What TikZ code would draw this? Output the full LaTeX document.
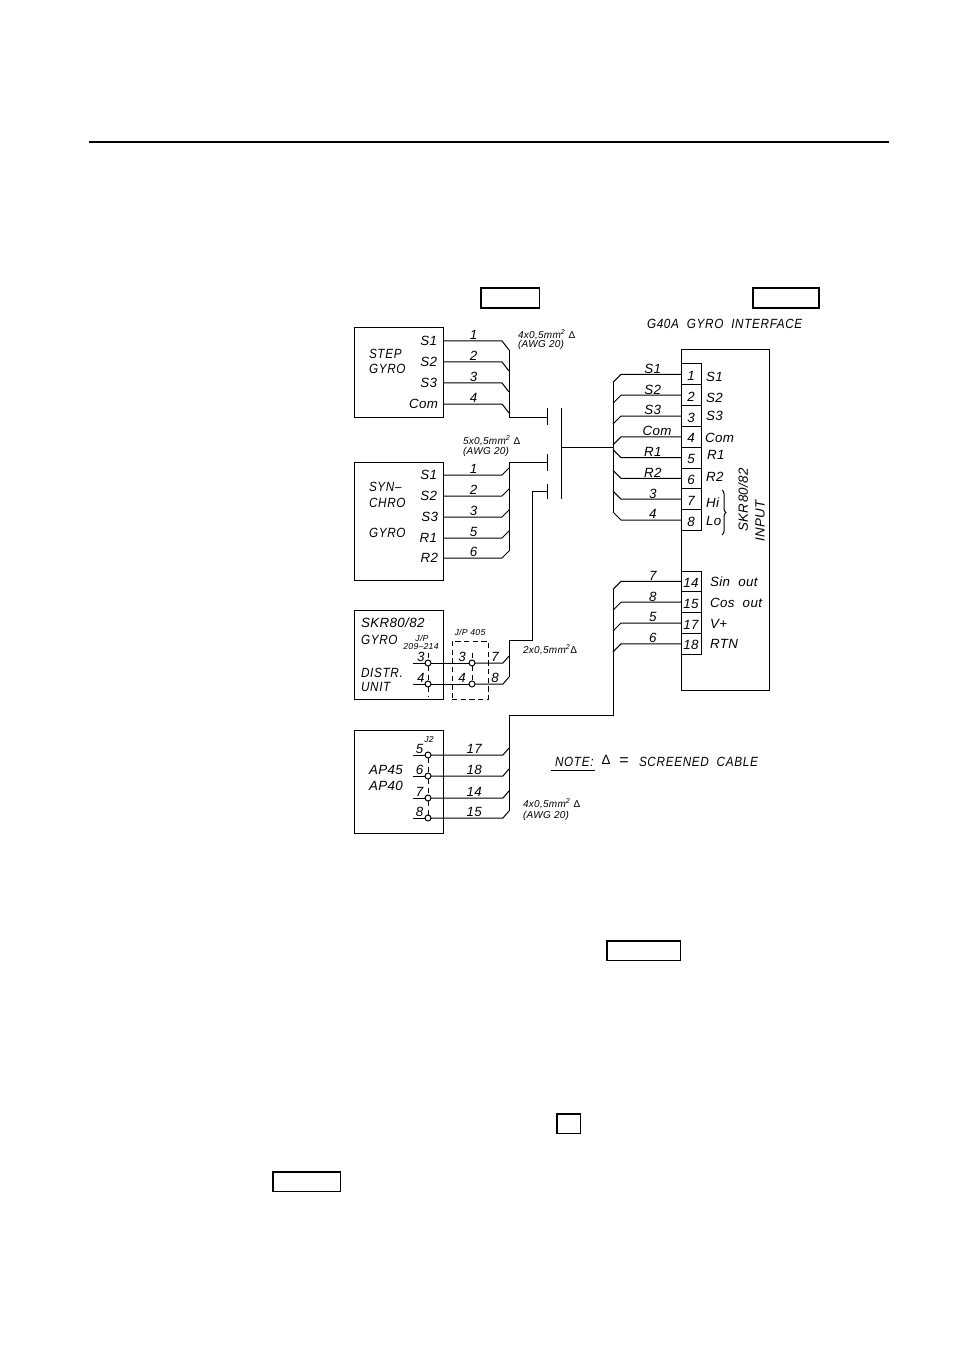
\documentclass[tikz,border=0pt]{standalone}
\usepackage{fontspec}
\setmainfont[LetterSpace=3]{Liberation Sans}
\newfontfamily\cadnarrow[FakeStretch=0.88,LetterSpace=5]{Liberation Sans}
\usepackage{tikz}
\usetikzlibrary{positioning,decorations.pathreplacing}

\begin{document}
\begin{tikzpicture}[
    x=0.75pt, y=-0.75pt,
    every node/.style={font=\fontsize{10}{10}\selectfont\itshape, inner sep=0pt, outer sep=0pt},
    wire/.style={line width=0.75pt},
    unitbox/.style={rectangle, draw, line width=0.75pt, anchor=north west},
    blankbox/.style={rectangle, draw, line width=1pt, anchor=north west},
    cell/.style={rectangle, draw, line width=0.75pt, minimum width=15pt, minimum height=15.6pt, text height=9.2pt, text depth=0pt},
    term/.style={circle, draw, fill=white, line width=0.75pt, minimum size=4.5pt},
    pinlab/.style={anchor=east},
    wirelab/.style={above=0.8pt, pos=#1},
    wirelab/.default=0.47,
    capstxt/.style={font=\fontsize{10}{10}\selectfont\cadnarrow\itshape, anchor=west},
    smalltxt/.style={font=\fontsize{7.5}{7.5}\selectfont\itshape, anchor=west},
    tinytxt/.style={font=\fontsize{6.5}{6.5}\selectfont\itshape},
    dashwire/.style={line width=0.75pt, dash pattern=on 4pt off 2.5pt}
]
    \useasboundingbox (0,0) rectangle (954,1351);

    % Page rule and empty frames
    \coordinate (ruleL) at (89,142);
    \coordinate (ruleR) at (889,142);
    \draw[line width=1.5pt] (ruleL) -- (ruleR);
    \node[blankbox, minimum width=44pt, minimum height=15pt] (blank1) at (481,288) {};
    \node[blankbox, minimum width=49.5pt, minimum height=15pt] (blank2) at (753,288) {};
    \node[blankbox, minimum width=55pt, minimum height=14.5pt] (blank3) at (607,941) {};
    \node[blankbox, minimum width=17.5pt, minimum height=14.5pt] (blank4) at (557,1114) {};
    \node[blankbox, minimum width=50.5pt, minimum height=14.5pt] (blank5) at (273,1172) {};

    % Step gyro
    \node[unitbox, minimum width=66.75pt, minimum height=66.75pt] (stepbox) at (354,328) {};
    \node[capstxt] (stepname1) at (369,354) {STEP};
    \node[capstxt] (stepname2) at (369,369) {GYRO};
    \node[pinlab] (stepS1) at (437,341) {S1};
    \node[pinlab] (stepS2) at (437,362) {S2};
    \node[pinlab] (stepS3) at (437,383) {S3};
    \node[pinlab] (stepCom) at (438,404) {Com};
    \draw[wire] (stepS1 -| stepbox.east) -- node[wirelab=0.52] (stepw1) {1} ++(59,0) -- ++(7,9) coordinate (stepT1);
    \draw[wire] (stepS2 -| stepbox.east) -- node[wirelab=0.52] (stepw2) {2} ++(59,0) -- ++(7,9) coordinate (stepT2);
    \draw[wire] (stepS3 -| stepbox.east) -- node[wirelab=0.52] (stepw3) {3} ++(59,0) -- ++(7,9) coordinate (stepT3);
    \draw[wire] (stepCom -| stepbox.east) -- node[wirelab=0.52] (stepw4) {4} ++(59,0) -- ++(7,9) coordinate (stepT4);
    \node[smalltxt] (stepcable1) at (518,335) {4x0,5mm\textsuperscript{2} {\upshape Δ}};
    \node[smalltxt] (stepcable2) at (518,345) {(AWG 20)};

    % Synchro gyro
    \node[unitbox, minimum width=66.75pt, minimum height=88.5pt] (synbox) at (354,462) {};
    \node[capstxt] (synname1) at (369,487) {SYN\textendash};
    \node[capstxt] (synname2) at (369,503) {CHRO};
    \node[capstxt] (synname3) at (369,533) {GYRO};
    \node[pinlab] (synS1) at (437,475) {S1};
    \node[pinlab] (synS2) at (437,496) {S2};
    \node[pinlab] (synS3) at (438,517) {S3};
    \node[pinlab] (synR1) at (437,538) {R1};
    \node[pinlab] (synR2) at (438,558) {R2};
    \draw[wire] (synS1 -| synbox.east) -- node[wirelab=0.52] (synw1) {1} ++(59,0) -- ++(7,-7) coordinate (synT1);
    \draw[wire] (synS2 -| synbox.east) -- node[wirelab=0.52] (synw2) {2} ++(59,0) -- ++(7,-7) coordinate (synT2);
    \draw[wire] (synS3 -| synbox.east) -- node[wirelab=0.52] (synw3) {3} ++(59,0) -- ++(7,-7) coordinate (synT3);
    \draw[wire] (synR1 -| synbox.east) -- node[wirelab=0.52] (synw5) {5} ++(59,0) -- ++(7,-7) coordinate (synT4);
    \draw[wire] (synR2 -| synbox.east) -- node[wirelab=0.52] (synw6) {6} ++(59,0) -- ++(7,-7) coordinate (synT5);
    \node[smalltxt] (syncable1) at (463,441) {5x0,5mm\textsuperscript{2} {\upshape Δ}};
    \node[smalltxt] (syncable2) at (463,452) {(AWG 20)};

    % Junction bars
    \coordinate (tick1) at (547,417);
    \coordinate (tick2) at (547,462);
    \coordinate (tick3) at (547,491);
    \coordinate (busTop) at (561,408);
    \coordinate (busBot) at (561,499);
    \coordinate (busMid) at (561,447);
    \draw[wire] (tick1) ++(0,-9) -- ++(0,17);
    \draw[wire] (tick2) ++(0,-8) -- ++(0,17);
    \draw[wire] (tick3) ++(0,-7) -- ++(0,15);
    \draw[wire] (busTop) -- (busBot);
    \draw[wire] (stepT1) |- (tick1);
    \draw[wire] (synT5) |- (tick2);

    % Distribution unit
    \node[unitbox, minimum width=66.75pt, minimum height=66.75pt] (distbox) at (354,610) {};
    \node[anchor=west] (distname1) at (361,623) {SKR80/82};
    \node[capstxt] (distname2) at (361,640) {GYRO};
    \node[capstxt] (distname3) at (361,673) {DISTR.};
    \node[capstxt] (distname4) at (361,687) {UNIT};
    \node[tinytxt] (distjp1) at (422,638) {J/P};
    \node[tinytxt] (distjp2) at (421,647) {209\textendash 214};
    \node[tinytxt] (linkjp) at (470,632) {J/P 405};
    \node[unitbox, dashwire, minimum width=27pt, minimum height=43.5pt] (linkbox) at (452,641) {};
    \node[term] (dist3) at (428,663) {};
    \node[term] (dist4) at (428,684) {};
    \node[term] (link3) at (472,663) {};
    \node[term] (link4) at (472,684) {};
    \draw[dashwire] (dist3.north) ++(0,-7) -- (dist3.north);
    \draw[dashwire] (dist3.south) -- (dist4.north);
    \draw[dashwire] (dist4.south) -- ++(0,9);
    \draw[dashwire] (link3.north) ++(0,-7) -- (link3.north);
    \draw[dashwire] (link3.south) -- (link4.north);
    \draw[wire] (dist3.west) -- node[wirelab=0.35] (distn3) {3} ++(-12,0);
    \draw[wire] (dist4.west) -- node[wirelab=0.35] (distn4) {4} ++(-12,0);
    \draw[wire] (dist3.east) -- node[wirelab=0.82] (linkn3) {3} (link3.west);
    \draw[wire] (dist4.east) -- node[wirelab=0.82] (linkn4) {4} (link4.west);
    \draw[wire] (link3.east) -- node[wirelab=0.72] (linkw7) {7} ++(28,0) -- ++(6,-7) coordinate (distT1);
    \draw[wire] (link4.east) -- node[wirelab=0.72] (linkw8) {8} ++(28,0) -- ++(6,-7) coordinate (distT2);
    \coordinate (distTop) at (509,640);
    \draw[wire] (tick3) -- ++(-15,0) |- (distTop) -- (distT2);
    \node[smalltxt] (distcable) at (523,650) {2x0,5mm\textsuperscript{2}{\upshape Δ}};

    % Autopilot
    \node[unitbox, minimum width=66.75pt, minimum height=77.25pt] (apbox) at (354,730) {};
    \node[anchor=west] (apname1) at (369,770) {AP45};
    \node[anchor=west] (apname2) at (369,786) {AP40};
    \node[tinytxt] (apjack) at (429,740) {J2};
    \node[term] (ap5) at (428,755) {};
    \node[term] (ap6) at (428,776) {};
    \node[term] (ap7) at (428,798) {};
    \node[term] (ap8) at (428,818) {};
    \draw[dashwire] (ap5.south) -- (ap6.north);
    \draw[dashwire] (ap6.south) -- (ap7.north);
    \draw[dashwire] (ap7.south) -- (ap8.north);
    \draw[wire] (ap5.west) -- node[wirelab=0.45] (apn5) {5} ++(-12,0);
    \draw[wire] (ap6.west) -- node[wirelab=0.45] (apn6) {6} ++(-12,0);
    \draw[wire] (ap7.west) -- node[wirelab=0.45] (apn7) {7} ++(-12,0);
    \draw[wire] (ap8.west) -- node[wirelab=0.45] (apn8) {8} ++(-12,0);
    \draw[wire] (ap5.east) -- node[wirelab=0.6] (apw17) {17} ++(72,0) -- ++(6,-7) coordinate (apT1);
    \draw[wire] (ap6.east) -- node[wirelab=0.6] (apw18) {18} ++(72,0) -- ++(6,-7) coordinate (apT2);
    \draw[wire] (ap7.east) -- node[wirelab=0.6] (apw14) {14} ++(72,0) -- ++(6,-7) coordinate (apT3);
    \draw[wire] (ap8.east) -- node[wirelab=0.6] (apw15) {15} ++(72,0) -- ++(6,-7) coordinate (apT4);
    \node[smalltxt] (apcable1) at (523,804) {4x0,5mm\textsuperscript{2} {\upshape Δ}};
    \node[smalltxt] (apcable2) at (523,816) {(AWG 20)};

    % G40A interface
    \node[capstxt] (title) at (647,324) {G40A\ \ GYRO\ \ INTERFACE};
    \node[unitbox, minimum width=66.4pt, minimum height=255.4pt] (ifbox) at (681,350) {};
    \node[cell, anchor=north west] (in1) at (681,364) {1};
    \node[cell, below=0pt of in1] (in2) {2};
    \node[cell, below=0pt of in2] (in3) {3};
    \node[cell, below=0pt of in3] (in4) {4};
    \node[cell, below=0pt of in4] (in5) {5};
    \node[cell, below=0pt of in5] (in6) {6};
    \node[cell, below=0pt of in6] (in7) {7};
    \node[cell, below=0pt of in7] (in8) {8};
    \node[anchor=west] (inS1) at (706,377) {S1};
    \node[anchor=west] (inS2) at (706,398) {S2};
    \node[anchor=west] (inS3) at (706,416) {S3};
    \node[anchor=west] (inCom) at (705,438) {Com};
    \node[anchor=west] (inR1) at (707,455) {R1};
    \node[anchor=west] (inR2) at (706,477) {R2};
    \node[anchor=west] (inHi) at (706,503) {Hi};
    \node[anchor=west] (inLo) at (706,521) {Lo};
    \coordinate (braceT) at (722,490);
    \coordinate (braceB) at (722,535);
    \draw[wire, decorate, decoration={brace, amplitude=3pt}] (braceT) -- (braceB);
    \node[rotate=90, anchor=east] (ifname1) at (743,468) {SKR80/82};
    \node[rotate=90, anchor=east] (ifname2) at (760,500) {INPUT};
    \draw[wire] (in1.west) -- node[wirelab] (inw1) {S1} ++(-60,0) -- ++(-8,8) coordinate (rtop);
    \draw[wire] (in2.west) -- node[wirelab] (inw2) {S2} ++(-60,0) -- ++(-8,8);
    \draw[wire] (in3.west) -- node[wirelab] (inw3) {S3} ++(-60,0) -- ++(-8,8);
    \draw[wire] (in4.west) -- node[wirelab=0.4] (inw4) {Com} ++(-60,0) -- ++(-8,8);
    \draw[wire] (in5.west) -- node[wirelab] (inw5) {R1} ++(-60,0) -- ++(-8,-8);
    \draw[wire] (in6.west) -- node[wirelab] (inw6) {R2} ++(-60,0) -- ++(-8,-8);
    \draw[wire] (in7.west) -- node[wirelab] (inw7) {3} ++(-60,0) -- ++(-8,-8);
    \draw[wire] (in8.west) -- node[wirelab] (inw8) {4} ++(-60,0) -- ++(-8,-8) coordinate (rbot);
    \draw[wire] (rtop) -- (rbot);
    \draw[wire] (busMid) -- (busMid -| rtop);

    % Outputs
    \node[cell, anchor=north west] (out14) at (681,571) {14};
    \node[cell, below=0pt of out14] (out15) {15};
    \node[cell, below=0pt of out15] (out17) {17};
    \node[cell, below=0pt of out17] (out18) {18};
    \node[anchor=west] (outSin) at (710,582) {Sin\ \ out};
    \node[anchor=west] (outCos) at (710,603) {Cos\ \ out};
    \node[anchor=west] (outV) at (710,624) {V+};
    \node[anchor=west] (outRTN) at (710,644) {RTN};
    \draw[wire] (out14.west) -- node[wirelab] (outw7) {7} ++(-60,0) -- ++(-8,8) coordinate (lowtop);
    \draw[wire] (out15.west) -- node[wirelab] (outw8) {8} ++(-60,0) -- ++(-8,8);
    \draw[wire] (out17.west) -- node[wirelab] (outw5) {5} ++(-60,0) -- ++(-8,8);
    \draw[wire] (out18.west) -- node[wirelab] (outw6) {6} ++(-60,0) -- ++(-8,8);
    \coordinate (apTop) at (509,715);
    \draw[wire] (lowtop) |- (apTop) -- (apT4);

    % Note
    \node[capstxt] (note) at (555,762) {NOTE:};
    \draw[wire] (note.west) ++(-4,8) -- ++(44,0);
    \node[font=\fontsize{10}{10}\selectfont\upshape] (notetri) at (606,760) {Δ};
    \node[font=\fontsize{12}{12}\selectfont] (noteeq) at (624,762) {=};
    \node[capstxt] (notetxt) at (639,762) {SCREENED\ \ CABLE};
\end{tikzpicture}
\end{document}
